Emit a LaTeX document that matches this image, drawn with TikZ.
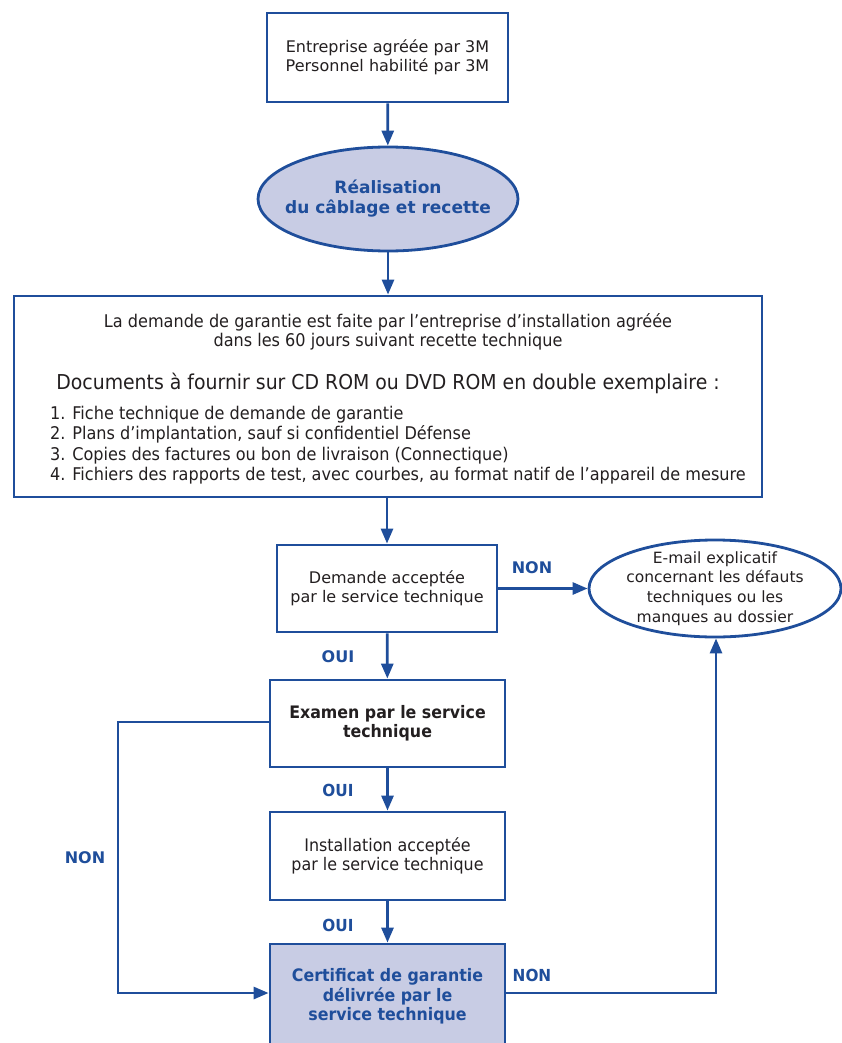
\documentclass[tikz,border=0pt]{standalone}
\usepackage{fontspec}
\setmainfont{DejaVu Sans}
\newfontfamily\condf[FakeStretch=0.92]{DejaVu Sans}
\usetikzlibrary{arrows.meta,shapes.geometric}
\definecolor{fblue}{RGB}{31,78,155}
\definecolor{flav}{RGB}{200,204,228}
\definecolor{ftext}{RGB}{35,31,32}
\begin{document}
\begin{tikzpicture}[x=1pt,y=-1pt,
  box/.style={draw=fblue,line width=2.8pt,fill=white,inner sep=0pt,align=center,text=ftext},
  oval/.style={ellipse,draw=fblue,line width=2.8pt,inner sep=0pt,align=center},
  conn/.style={draw=fblue,line width=2.8pt,-{Triangle[length=15pt,width=12pt]}},
  lab/.style={text=fblue,font=\bfseries\fontsize{16}{18}\selectfont},
  clab/.style={text=fblue,font=\condf\bfseries\fontsize{16.6}{18}\selectfont},
  nfont/.style={font=\fontsize{16}{19}\selectfont},
  cfont/.style={font=\condf\fontsize{17.3}{19.5}\selectfont}]
\useasboundingbox (0,0) rectangle (842,1043);
% nodes
\node[box,nfont,minimum width=241pt,minimum height=89pt] (top) at (387.5,57.5)
  {Entreprise agréée par 3M\\Personnel habilité par 3M};
\node[oval,fill=flav,minimum width=260pt,minimum height=104pt] (real) at (388,199) {};
\node[text=fblue,align=center,font=\bfseries\fontsize{17}{20}\selectfont] (realt) at (real.center)
  {Réalisation\\du câblage et recette};
\node[box,minimum width=748pt,minimum height=201pt] (big) at (388,396.5) {};
\node[text=ftext,align=center,font=\condf\fontsize{17.5}{19}\selectfont] (bt1) at (388,331.5)
  {La demande de garantie est faite par l’entreprise d’installation agréée\\dans les 60 jours suivant recette technique};
\node[text=ftext,font=\condf\fontsize{20.5}{22}\selectfont] (bt2) at (388,383)
  {Documents à fournir sur CD ROM ou DVD ROM en double exemplaire :};
\node[text=ftext,font=\condf\fontsize{17.5}{20.4}\selectfont,align=left,anchor=west,inner sep=0pt] (bt3) at (50,445)
  {1. Fiche technique de demande de garantie\\
   2. Plans d’implantation, sauf si confidentiel Défense\\
   3. Copies des factures ou bon de livraison (Connectique)\\
   4. Fichiers des rapports de test, avec courbes, au format natif de l’appareil de mesure};
\node[box,nfont,minimum width=220pt,minimum height=87pt] (dem) at (387,588.5)
  {Demande acceptée\\par le service technique};
\node[oval,fill=white,minimum width=252pt,minimum height=97pt] (mail) at (715,588.5) {};
\node[text=ftext,align=center,font=\fontsize{15.5}{19.7}\selectfont] (mailt) at (mail.center)
  {E-mail explicatif\\concernant les défauts\\techniques ou les\\manques au dossier};
\node[box,font=\condf\bfseries\fontsize{17.2}{19}\selectfont,minimum width=235pt,minimum height=87pt] (exam) at (387.5,723.5)
  {Examen par le service\\technique};
\node[box,cfont,minimum width=235pt,minimum height=88pt] (inst) at (387.5,856)
  {Installation acceptée\\par le service technique};
\node[box,fill=flav,text=fblue,font=\condf\bfseries\fontsize{17.2}{19.5}\selectfont,minimum width=235pt,minimum height=105pt] (cert) at (387.5,996.5)
  {Certificat de garantie\\délivrée par le\\service technique};
% connectors
\draw[conn] (top) -- (real);
\draw[conn] (real) -- (big);
\draw[conn] (big.south -| dem.north) -- (dem);
\draw[conn] (dem) -- (mail);
\draw[conn] (dem) -- (exam);
\draw[conn] (exam) -- (inst);
\draw[conn] (inst) -- (cert);
\coordinate (lc) at (118,722);
\coordinate (rc) at (716,993);
\draw[conn] (exam.west |- lc) -| (lc) |- (cert.west |- rc);
\draw[conn] (cert.east |- rc) -| (mail.south -| rc);
% labels
\node[lab] (n1) at (532,568) {NON};
\node[lab] (o1) at (338,657) {OUI};
\node[clab] (o2) at (338,790) {OUI};
\node[clab] (o3) at (338,925) {OUI};
\node[lab] (n2) at (85,858) {NON};
\node[clab] (n3) at (532,975) {NON};
\end{tikzpicture}
\end{document}
